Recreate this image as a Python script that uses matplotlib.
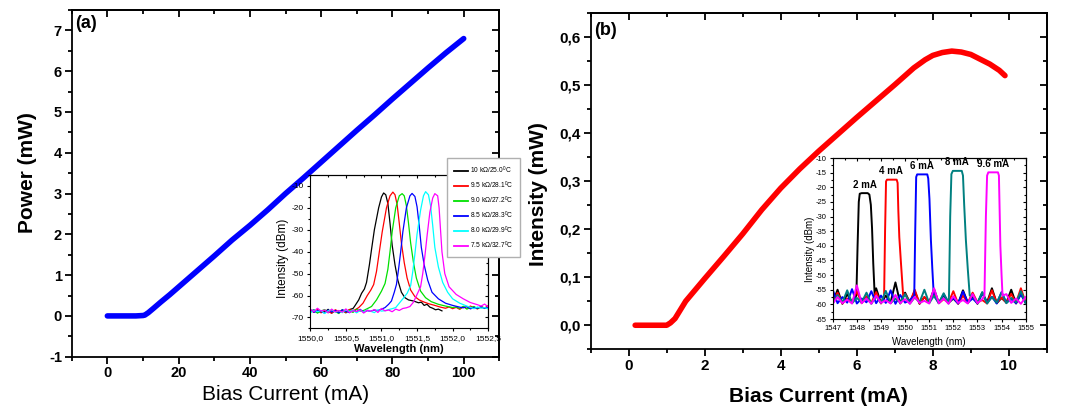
import matplotlib
matplotlib.use("Agg")
import matplotlib.pyplot as plt
from matplotlib.ticker import MultipleLocator, NullFormatter
from matplotlib.lines import Line2D

plt.rcParams["font.family"] = ["Liberation Sans", "DejaVu Sans"]
plt.rcParams["mathtext.default"] = "regular"

# --- panel (a): L-I curve ---
CURRENT_A = [0, 2, 4, 6, 8, 10, 10.5, 11.5, 13, 15, 17.5, 20, 25, 30, 35, 40, 45, 50,
             55, 60, 65, 70, 75, 80, 85, 90, 95, 100]
POWER_A = [0, 0, 0, 0, 0, 0.01, 0.02, 0.08, 0.19, 0.34, 0.52, 0.71, 1.09, 1.47, 1.86,
           2.22, 2.60, 3.00, 3.38, 3.77, 4.16, 4.55, 4.93, 5.32, 5.70, 6.08, 6.45, 6.80]

# --- panel (b): L-I curve ---
CURRENT_B = [0.17, 0.5, 1.0, 1.1, 1.22, 1.5, 2.0, 2.5, 3.0, 3.5, 4.0, 4.5, 5.0, 5.5, 6.0,
             6.5, 7.0, 7.5, 7.8, 8.0, 8.25, 8.5, 8.75, 9.0, 9.25, 9.5, 9.75, 9.9]
POWER_B = [0, 0, 0, 0.005, 0.014, 0.05, 0.097, 0.143, 0.19, 0.24, 0.285, 0.325, 0.362,
           0.397, 0.432, 0.466, 0.50, 0.535, 0.552, 0.561, 0.567, 0.570, 0.568, 0.563,
           0.553, 0.543, 0.53, 0.519]

# --- inset (a): spectra vs thermistor / temperature ---
LEGEND_A = ["10 kΩ/25.0", "9.5 kΩ/28.1", "9.0 kΩ/27.2", "8.5 kΩ/28.3", "8.0 kΩ/29.9", "7.5 kΩ/32.7"]
COLORS_A = ["black", "#ff0000", "#00e000", "#0000ff", "#00ffff", "#ff00ff"]
NOISE_GRID_A = [1550.00, 1550.05, 1550.10, 1550.15, 1550.20, 1550.25, 1550.30, 1550.35, 1550.40,
                1550.45, 1550.50, 1550.55, 1550.60, 1550.65, 1550.70, 1550.75, 1550.80, 1550.85,
                1550.90, 1550.95, 1551.00, 1551.05, 1551.10, 1551.15, 1551.20, 1551.25, 1551.30,
                1551.35, 1551.40, 1551.45, 1551.50, 1551.55, 1551.60, 1551.65, 1551.70, 1551.75,
                1551.80, 1551.85, 1551.90, 1551.95, 1552.00, 1552.05, 1552.10, 1552.15, 1552.20,
                1552.25, 1552.30, 1552.35, 1552.40, 1552.45, 1552.50]
LEFT_NOISE_A = [
    [-67.2, -66.5, -67.8, -66.9, -67.5, -66.3, -68.0, -66.8, -67.4, -66.6, -67.9, -66.4, -65.9],
    [-66.8, -67.6, -66.2, -67.9, -66.7, -67.3, -68.1, -66.5, -67.2, -66.9, -67.7, -66.4, -67.0, -66.1],
    [-67.5, -66.9, -68.0, -67.1, -66.4, -67.8, -66.7, -67.3, -68.2, -66.6, -67.4, -66.9, -67.7,
     -66.3, -67.1, -66.8, -66.0],
    [-66.4, -67.7, -66.9, -67.3, -68.0, -66.6, -67.5, -66.8, -67.9, -66.5, -67.2, -67.8, -66.7,
     -67.4, -66.3, -67.6, -66.9, -67.2, -66.6, -66.9, -66.2],
    [-67.9, -66.6, -67.4, -66.8, -68.2, -67.0, -66.5, -67.6, -66.9, -67.8, -66.4, -67.3, -66.7,
     -67.9, -66.8, -67.5, -66.6, -67.2, -67.8, -66.5, -67.1, -66.9, -66.4, -66.0],
    [-66.3, -67.4, -65.8, -67.1, -66.6, -67.9, -66.2, -67.5, -66.8, -67.6, -66.1, -67.8, -66.9,
     -67.3, -66.5, -68.0, -66.7, -67.2, -66.4, -67.7, -65.9, -67.0, -66.6, -67.4, -66.2, -66.8,
     -65.9, -65.6],
]
RIGHT_NOISE_A = [
    [],
    [-66.0, -65.4, -66.3, -65.1, -65.9, -64.8, -65.6, -66.1, -65.0, -65.7, -64.6],
    [-65.2, -65.9, -64.9, -66.2, -65.5, -65.0, -66.0, -65.3, -65.8, -65.1],
    [-65.6, -65.0, -66.1, -65.4, -65.8, -65.1, -65.9, -65.3],
    [-65.4, -66.0, -65.2, -65.8, -65.5, -66.1],
    [-64.8, -63.9, -65.2],
]
PEAKS_A = [
    [(1550.62, -65.0), (1550.68, -62.0), (1550.72, -59.0), (1550.76, -57.0), (1550.79, -54.0),
     (1550.83, -46.0), (1550.86, -39.0), (1550.90, -30.0), (1550.96, -20.0), (1551.00, -15.0),
     (1551.03, -13.2), (1551.06, -14.0), (1551.09, -18.0), (1551.12, -27.0), (1551.15, -37.0),
     (1551.19, -46.0), (1551.23, -53.0), (1551.28, -58.5), (1551.33, -61.0), (1551.38, -62.0),
     (1551.45, -62.5), (1551.52, -63.3), (1551.56, -63.0), (1551.60, -64.5), (1551.64, -64.0),
     (1551.68, -65.3), (1551.72, -65.8), (1551.76, -66.5), (1551.80, -66.2), (1551.85, -67.0)],
    [(1550.68, -65.5), (1550.74, -63.5), (1550.80, -60.0), (1550.85, -57.5), (1550.89, -55.0),
     (1550.93, -49.0), (1550.97, -40.0), (1551.01, -31.0), (1551.07, -20.0), (1551.12, -14.5),
     (1551.16, -12.8), (1551.19, -14.0), (1551.22, -18.5), (1551.25, -27.0), (1551.28, -36.0),
     (1551.32, -45.0), (1551.36, -52.0), (1551.41, -57.5), (1551.47, -60.5), (1551.53, -62.0),
     (1551.60, -63.0), (1551.67, -63.8), (1551.75, -64.5), (1551.83, -65.3), (1551.90, -65.8),
     (1551.95, -65.2)],
    [(1550.86, -65.0), (1550.93, -62.0), (1551.00, -58.0), (1551.05, -54.5), (1551.09, -48.0),
     (1551.12, -40.0), (1551.15, -31.0), (1551.20, -20.0), (1551.25, -14.5), (1551.29, -13.5),
     (1551.32, -14.5), (1551.35, -19.0), (1551.38, -27.0), (1551.41, -36.0), (1551.45, -45.0),
     (1551.49, -52.0), (1551.55, -58.0), (1551.62, -61.0), (1551.70, -62.8), (1551.80, -64.0),
     (1551.90, -64.8), (1552.00, -65.5)],
    [(1551.05, -65.5), (1551.10, -64.0), (1551.14, -62.5), (1551.18, -58.5), (1551.21, -55.0),
     (1551.24, -48.0), (1551.27, -40.0), (1551.30, -31.0), (1551.35, -20.0), (1551.40, -14.5),
     (1551.43, -13.4), (1551.47, -14.8), (1551.50, -19.5), (1551.53, -28.0), (1551.56, -38.0),
     (1551.60, -46.0), (1551.65, -53.0), (1551.71, -58.5), (1551.80, -61.5), (1551.90, -63.5),
     (1552.00, -64.5), (1552.10, -65.3)],
    [(1551.20, -65.5), (1551.25, -63.5), (1551.30, -61.5), (1551.36, -59.0), (1551.41, -55.5),
     (1551.44, -49.0), (1551.47, -41.0), (1551.50, -32.0), (1551.55, -21.0), (1551.59, -14.5),
     (1551.62, -12.6), (1551.66, -14.0), (1551.69, -19.0), (1551.72, -28.0), (1551.75, -38.0),
     (1551.80, -47.0), (1551.86, -54.0), (1551.93, -58.5), (1552.00, -61.5), (1552.10, -63.5),
     (1552.20, -64.8)],
    [(1551.40, -65.0), (1551.45, -63.0), (1551.50, -59.5), (1551.55, -56.0), (1551.58, -50.0),
     (1551.61, -42.0), (1551.64, -33.0), (1551.68, -22.0), (1551.72, -15.5), (1551.75, -13.5),
     (1551.79, -14.5), (1551.81, -20.0), (1551.83, -30.0), (1551.85, -40.0), (1551.89, -50.0),
     (1551.95, -56.0), (1552.05, -59.5), (1552.15, -61.5), (1552.25, -63.2), (1552.35, -64.2)],
]

# --- inset (b): spectra vs bias current ---
PEAK_LABELS_B = ["2 mA", "4 mA", "6 mA", "8 mA", "9.6 mA"]
COLORS_B = ["black", "#ff0000", "#0000ff", "#008080", "#ff00ff"]
NOISE_GRID_B = [1547.0, 1547.2, 1547.4, 1547.6, 1547.8, 1548.0, 1548.2, 1548.4, 1548.6, 1548.8,
                1549.0, 1549.2, 1549.4, 1549.6, 1549.8, 1550.0, 1550.2, 1550.4, 1550.6, 1550.8,
                1551.0, 1551.2, 1551.4, 1551.6, 1551.8, 1552.0, 1552.2, 1552.4, 1552.6, 1552.8,
                1553.0, 1553.2, 1553.4, 1553.6, 1553.8, 1554.0, 1554.2, 1554.4, 1554.6, 1554.8,
                1555.0]
LEFT_NOISE_B = [
    [-59.5, -55.0, -59.8, -56.5, -59.2],
    [-59.4, -56.0, -59.7, -58.0, -59.3, -55.5, -59.6, -57.2, -59.5, -55.8, -59.7],
    [-55.0, -59.6, -57.5, -59.4, -54.8, -59.7, -58.0, -59.3, -55.5, -59.6, -57.0, -59.5, -55.2,
     -59.8, -56.8, -59.4, -58.5],
    [-59.7, -56.8, -59.4, -55.2, -59.6, -57.8, -59.3, -56.0, -59.8, -57.2, -59.5, -55.4, -59.6,
     -58.0, -59.4, -56.5, -59.7, -57.6, -59.3, -55.0, -59.6, -57.0, -59.5, -56.2, -59.7],
    [-59.8, -57.5, -59.6, -58.4, -59.7, -53.5, -59.6, -58.0, -59.8, -57.0, -59.5, -58.6, -59.7,
     -56.8, -59.6, -58.2, -59.8, -57.4, -59.5, -58.8, -59.7, -54.5, -59.6, -58.0, -59.8, -57.2,
     -59.5, -58.5, -59.7, -56.5, -59.6, -58.2],
]
RIGHT_NOISE_B = [
    [-54.5, -59.6, -57.0, -59.3, -52.5, -59.7, -56.0, -59.4, -55.5, -59.8, -57.5, -59.2, -54.8,
     -59.6, -56.8, -59.5, -58.0, -59.7, -55.2, -59.4, -57.2, -59.8, -56.0, -59.3, -54.5, -59.6,
     -57.8, -59.4, -55.0, -59.7, -56.2, -59.5],
    [-56.5, -59.4, -55.0, -59.7, -57.5, -59.3, -56.2, -59.6, -58.2, -59.4, -55.5, -59.8, -57.0,
     -59.5, -56.0, -59.3, -58.5, -59.7, -55.2, -59.5, -57.6, -59.4, -56.4, -59.6, -54.5, -59.5],
    [-59.6, -56.5, -59.3, -57.8, -59.7, -55.6, -59.4, -58.0, -59.6, -56.2, -59.5, -57.4, -59.7,
     -55.8, -59.4, -58.2, -59.6, -56.6, -59.5],
    [-57.0, -59.5, -55.8, -59.7, -57.5, -59.4, -56.0, -59.6, -57.8, -59.3, -55.5, -59.6],
    [-59.7, -56.5, -59.5, -58.0, -59.8, -57.5],
]
PEAKS_B = [
    [(1547.98, -57.0), (1548.03, -40.0), (1548.08, -25.0), (1548.12, -22.2), (1548.20, -22.0),
     (1548.45, -22.0), (1548.52, -22.5), (1548.58, -26.0), (1548.63, -34.0), (1548.68, -46.0),
     (1548.74, -57.0)],
    [(1549.13, -57.0), (1549.17, -35.0), (1549.21, -18.0), (1549.25, -17.4), (1549.65, -17.4),
     (1549.69, -18.5), (1549.72, -28.0), (1549.76, -37.0), (1549.83, -46.0), (1549.92, -57.0)],
    [(1550.38, -57.0), (1550.42, -35.0), (1550.46, -16.5), (1550.50, -15.6), (1550.92, -15.6),
     (1550.96, -17.0), (1551.01, -24.0), (1551.07, -38.0), (1551.13, -48.0), (1551.19, -57.0)],
    [(1551.82, -57.0), (1551.87, -30.0), (1551.92, -15.5), (1551.98, -14.4), (1552.35, -14.4),
     (1552.40, -16.0), (1552.45, -26.0), (1552.52, -38.0), (1552.60, -48.0), (1552.68, -57.0)],
    [(1553.29, -57.0), (1553.35, -30.0), (1553.40, -16.0), (1553.45, -14.9), (1553.85, -14.9),
     (1553.89, -16.0), (1553.92, -28.0), (1553.95, -40.0), (1554.00, -50.0), (1554.04, -57.0)],
]


def build_spectrum(grid, left, right, peak):
    lo, hi = peak[0][0], peak[-1][0]
    pts = [(w, v) for w, v in zip(grid[:len(left)], left) if w < lo]
    pts += peak
    if right:
        pts += [(w, v) for w, v in zip(grid[-len(right):], right) if w > hi]
    return [p[0] for p in pts], [p[1] for p in pts]


def frame(ax, xticks, xlabels, xminor, yticks, ylabels, yminor, lw, maj, mnr, size, weight):
    ax.set_xticks(xticks, xlabels, fontsize=size, fontweight=weight)
    ax.set_yticks(yticks, ylabels, fontsize=size, fontweight=weight)
    ax.xaxis.set_minor_locator(MultipleLocator(xminor))
    ax.yaxis.set_minor_locator(MultipleLocator(yminor))
    ax.tick_params(which="both", direction="out", width=lw, pad=2)
    ax.tick_params(which="major", length=maj)
    ax.tick_params(which="minor", length=mnr)
    for s in ax.spines.values():
        s.set_linewidth(lw)
    # Origin-style mirrored ticks, pointing inwards
    top = ax.secondary_xaxis("top")
    top.set_xticks(xticks)
    top.xaxis.set_minor_locator(MultipleLocator(xminor))
    top.xaxis.set_major_formatter(NullFormatter())
    top.tick_params(which="both", direction="in", width=lw)
    top.tick_params(which="major", length=maj)
    top.tick_params(which="minor", length=mnr)
    top.spines["top"].set_linewidth(lw)
    right = ax.secondary_yaxis("right")
    right.set_yticks(yticks)
    right.yaxis.set_minor_locator(MultipleLocator(yminor))
    right.yaxis.set_major_formatter(NullFormatter())
    right.tick_params(which="both", direction="in", width=lw)
    right.tick_params(which="major", length=maj)
    right.tick_params(which="minor", length=mnr)
    right.spines["right"].set_linewidth(lw)


def comma(vals, fmt):
    return [fmt.format(v).replace(".", ",") for v in vals]


fig = plt.figure(figsize=(10.72, 4.12), dpi=100)

# ---------------- panel (a) ----------------
ax_a = fig.add_axes([0.0669, 0.1342, 0.3989, 0.8415])
ax_a.plot(CURRENT_A, POWER_A, color="#0000ff", lw=4, solid_capstyle="round")
ax_a.set_xlim(-10, 110)
ax_a.set_ylim(-1, 7.5)
xt = [0, 20, 40, 60, 80, 100]
yt = [-1, 0, 1, 2, 3, 4, 5, 6, 7]
frame(ax_a, xt, [str(v) for v in xt], 10, yt, [str(v) for v in yt], 0.5,
      1.3, 5, 3, 10.5, "bold")
ax_a.set_xlabel("Bias Current (mA)", fontsize=15)
ax_a.set_ylabel("Power (mW)", fontsize=15, fontweight="bold")
ax_a.xaxis.label.set_va("center")
ax_a.yaxis.label.set_va("center")
ax_a.xaxis.set_label_coords(0.5, -0.108)
ax_a.yaxis.set_label_coords(-0.103, 0.53)
ax_a.text(0.008, 0.962, "(a)", transform=ax_a.transAxes, fontsize=13, fontweight="bold",
          ha="left", va="center")

in_a = fig.add_axes([0.2895, 0.2029, 0.1659, 0.3723])
handles = []
for i in range(len(LEGEND_A)):
    wl, db = build_spectrum(NOISE_GRID_A, LEFT_NOISE_A[i], RIGHT_NOISE_A[i], PEAKS_A[i])
    in_a.plot(wl, db, color=COLORS_A[i], lw=0.9)
    handles.append(Line2D([], [], color=COLORS_A[i], lw=1.3))
in_a.set_xlim(1550.0, 1552.5)
in_a.set_ylim(-75, -5)
wt = [1550.0, 1550.5, 1551.0, 1551.5, 1552.0, 1552.5]
dt = [-70, -60, -50, -40, -30, -20, -10]
frame(in_a, wt, comma(wt, "{:.1f}"), 0.25, dt, [str(v) for v in dt], 5,
      0.8, 2.5, 1.5, 6, "normal")
in_a.set_xlabel("Wavelength (nm)", fontsize=8, fontweight="bold")
in_a.set_ylabel("Intensity (dBm)", fontsize=8.5)
in_a.xaxis.label.set_va("center")
in_a.yaxis.label.set_va("center")
in_a.xaxis.set_label_coords(0.5, -0.136)
in_a.yaxis.set_label_coords(-0.155, 0.456)

fig.legend(handles, [lab + "$^{0}$C" for lab in LEGEND_A], loc="upper left",
           bbox_to_anchor=(447 / 1072, 1 - 158 / 412), borderaxespad=0, fontsize=4.8,
           frameon=True, fancybox=False, edgecolor="#b0b0b0", framealpha=1,
           handlelength=2.1, handletextpad=0.4, borderpad=1.0, labelspacing=0.55)

# ---------------- panel (b) ----------------
ax_b = fig.add_axes([0.551, 0.1522, 0.4255, 0.8172])
ax_b.plot(CURRENT_B, POWER_B, color="#ff0000", lw=4, solid_capstyle="round")
ax_b.set_xlim(-1, 11)
ax_b.set_ylim(-0.05, 0.65)
xt = [0, 2, 4, 6, 8, 10]
yt = [0.0, 0.1, 0.2, 0.3, 0.4, 0.5, 0.6]
frame(ax_b, xt, [str(v) for v in xt], 1, yt, comma(yt, "{:.1f}"), 0.05,
      1.3, 5, 3, 11, "bold")
ax_b.set_xlabel("Bias Current (mA)", fontsize=15, fontweight="bold")
ax_b.set_ylabel("Intensity (mW)", fontsize=15, fontweight="bold")
ax_b.xaxis.label.set_va("center")
ax_b.yaxis.label.set_va("center")
ax_b.xaxis.set_label_coords(0.5, -0.141)
ax_b.yaxis.set_label_coords(-0.114, 0.461)
ax_b.text(0.007, 0.948, "(b)", transform=ax_b.transAxes, fontsize=13, fontweight="bold",
          ha="left", va="center")

in_b = fig.add_axes([0.7768, 0.2257, 0.180, 0.3908])
for i in range(len(PEAK_LABELS_B)):
    wl, db = build_spectrum(NOISE_GRID_B, LEFT_NOISE_B[i], RIGHT_NOISE_B[i], PEAKS_B[i])
    in_b.plot(wl, db, color=COLORS_B[i], lw=1.4)
    top_db = max(v for _, v in PEAKS_B[i])
    flat = [w for w, v in PEAKS_B[i] if v >= top_db - 1.0]
    in_b.text((flat[0] + flat[-1]) / 2, top_db + 1.2, PEAK_LABELS_B[i], fontsize=7,
              fontweight="bold", ha="center", va="bottom")
in_b.set_xlim(1547, 1555)
in_b.set_ylim(-65, -10)
wt = [1547, 1548, 1549, 1550, 1551, 1552, 1553, 1554, 1555]
dt = [-65, -60, -55, -50, -45, -40, -35, -30, -25, -20, -15, -10]
frame(in_b, wt, [str(v) for v in wt], 0.5, dt, [str(v) for v in dt], 2.5,
      0.8, 2.5, 1.5, 5.5, "normal")
in_b.set_xlabel("Wavelength (nm)", fontsize=7)
in_b.set_ylabel("Intensity (dBm)", fontsize=7)
in_b.xaxis.label.set_va("center")
in_b.yaxis.label.set_va("center")
in_b.xaxis.set_label_coords(0.5, -0.141)
in_b.yaxis.set_label_coords(-0.118, 0.435)

fig.savefig("out.png", dpi=100)
